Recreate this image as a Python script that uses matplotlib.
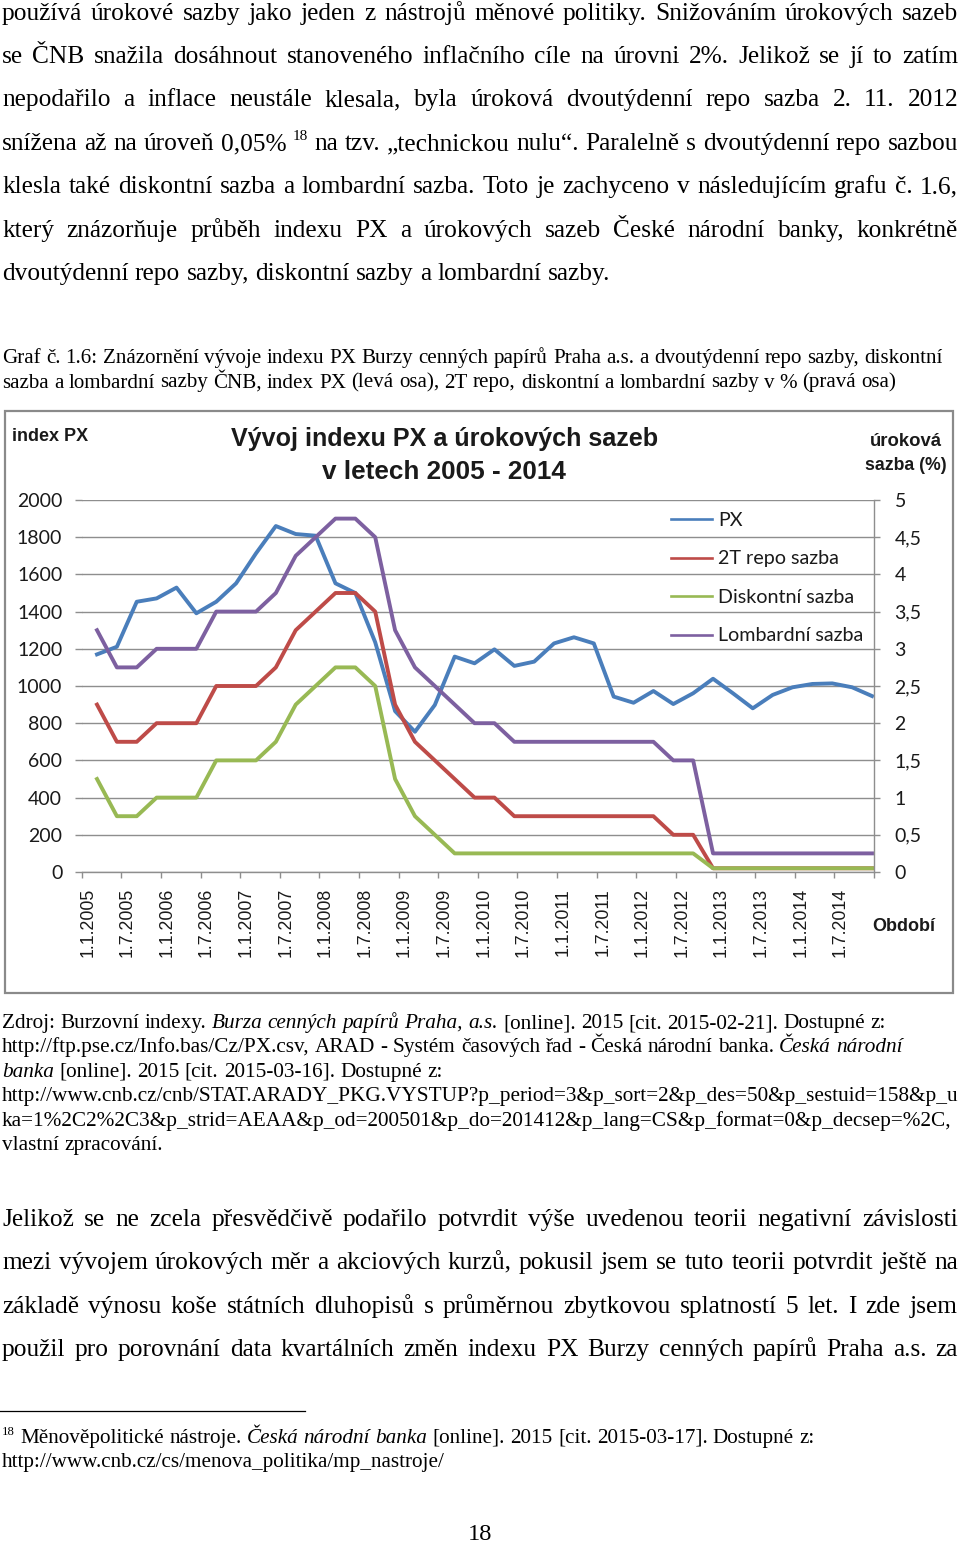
import matplotlib
matplotlib.use("Agg")
import matplotlib.pyplot as plt
from matplotlib.patches import Rectangle
from matplotlib.lines import Line2D
from matplotlib.ticker import FuncFormatter
import numpy as np

# ---- chart data (quarterly values 2005 - 2014) ----
px_index = [1170, 1211, 1453, 1471, 1529, 1391, 1453, 1552, 1713, 1860,
            1817, 1808, 1552, 1500, 1235, 865, 754, 898, 1158, 1122,
            1197, 1108, 1131, 1229, 1262, 1229, 943, 910, 973, 903,
            961, 1039, 961, 880, 952, 993, 1011, 1014, 993, 946]
repo_2t = [2.25, 1.75, 1.75, 2.0, 2.0, 2.0, 2.5, 2.5, 2.5, 2.75,
           3.25, 3.5, 3.75, 3.75, 3.5, 2.25, 1.75, 1.5, 1.25, 1.0,
           1.0, 0.75, 0.75, 0.75, 0.75, 0.75, 0.75, 0.75, 0.75, 0.5,
           0.5, 0.05, 0.05, 0.05, 0.05, 0.05, 0.05, 0.05, 0.05, 0.05]
discount = [1.25, 0.75, 0.75, 1.0, 1.0, 1.0, 1.5, 1.5, 1.5, 1.75,
            2.25, 2.5, 2.75, 2.75, 2.5, 1.25, 0.75, 0.5, 0.25, 0.25,
            0.25, 0.25, 0.25, 0.25, 0.25, 0.25, 0.25, 0.25, 0.25, 0.25,
            0.25, 0.05, 0.05, 0.05, 0.05, 0.05, 0.05, 0.05, 0.05, 0.05]
lombard = [3.25, 2.75, 2.75, 3.0, 3.0, 3.0, 3.5, 3.5, 3.5, 3.75,
           4.25, 4.5, 4.75, 4.75, 4.5, 3.25, 2.75, 2.5, 2.25, 2.0,
           2.0, 1.75, 1.75, 1.75, 1.75, 1.75, 1.75, 1.75, 1.75, 1.5,
           1.5, 0.25, 0.25, 0.25, 0.25, 0.25, 0.25, 0.25, 0.25, 0.25]
series_names = ["PX", "2T repo sazba", "Diskontní sazba", "Lombardní sazba"]
series_colors = ["#4a7ebb", "#be4b48", "#98b954", "#7d60a0"]
period_labels = ["1.1.2005", "1.7.2005", "1.1.2006", "1.7.2006", "1.1.2007",
                 "1.7.2007", "1.1.2008", "1.7.2008", "1.1.2009", "1.7.2009",
                 "1.1.2010", "1.7.2010", "1.1.2011", "1.7.2011", "1.1.2012",
                 "1.7.2012", "1.1.2013", "1.7.2013", "1.1.2014", "1.7.2014"]

# ---- page text ----
para1 = [
    "používá úrokové sazby jako jeden z nástrojů měnové politiky. Snižováním úrokových sazeb",
    "se ČNB snažila dosáhnout stanoveného inflačního cíle na úrovni 2%. Jelikož se jí to zatím",
    "nepodařilo a inflace neustále klesala, byla úroková dvoutýdenní repo sazba 2. 11. 2012",
    None,  # line with footnote mark, built below
    "klesla také diskontní sazba a lombardní sazba. Toto je zachyceno v následujícím grafu č. 1.6,",
    "který znázorňuje průběh indexu PX a úrokových sazeb České národní banky, konkrétně",
    "dvoutýdenní repo sazby, diskontní sazby a lombardní sazby.",
]
para1_line4 = [("snížena až na úroveň 0,05%", "n"), ("18", "sup"),
               ("na tzv. „technickou nulu“. Paralelně s dvoutýdenní repo sazbou", "n")]
caption = [
    "Graf č. 1.6: Znázornění vývoje indexu PX Burzy cenných papírů Praha a.s. a dvoutýdenní repo sazby, diskontní",
    "sazba a lombardní sazby ČNB, index PX (levá osa), 2T repo, diskontní a lombardní sazby v % (pravá osa)",
]
source = [
    [("Zdroj: Burzovní indexy.", "n"), ("Burza cenných papírů Praha, a.s.", "i"),
     ("[online]. 2015 [cit. 2015-02-21]. Dostupné z:", "n")],
    [("http://ftp.pse.cz/Info.bas/Cz/PX.csv,  ARAD - Systém časových řad - Česká národní banka.", "n"),
     ("Česká národní", "i")],
    [("banka", "i"), ("[online]. 2015 [cit. 2015-03-16]. Dostupné z:", "n")],
    [("http://www.cnb.cz/cnb/STAT.ARADY_PKG.VYSTUP?p_period=3&p_sort=2&p_des=50&p_sestuid=158&p_u", "n")],
    [("ka=1%2C2%2C3&p_strid=AEAA&p_od=200501&p_do=201412&p_lang=CS&p_format=0&p_decsep=%2C,", "n")],
    [("vlastní zpracování.", "n")],
]
para2 = [
    "Jelikož se ne zcela přesvědčivě podařilo potvrdit výše uvedenou teorii negativní závislosti",
    "mezi vývojem úrokových měr a akciových kurzů, pokusil jsem se tuto teorii potvrdit ještě na",
    "základě výnosu koše státních dluhopisů s průměrnou zbytkovou splatností 5 let. I zde jsem",
    "použil pro porovnání data kvartálních změn indexu PX Burzy cenných papírů Praha a.s. za",
]
footnote = [
    [("18", "sup"), ("Měnověpolitické nástroje.", "n"), ("Česká národní banka", "i"),
     ("[online]. 2015 [cit. 2015-03-17]. Dostupné z:", "n")],
    [("http://www.cnb.cz/cs/menova_politika/mp_nastroje/", "n")],
]

SERIF = "Liberation Serif"
BOLD_SANS = "Liberation Sans"
plt.rcParams["font.family"] = ["Lato", "DejaVu Sans"]

W, H = 960, 1543
fig = plt.figure(figsize=(W / 100, H / 100), dpi=100)
renderer = fig.canvas.get_renderer()


def fx(x):
    return x / W


def fy(y):
    return 1 - y / H


def text_width(s, **kw):
    t = fig.text(0, 0, s, **kw)
    w = t.get_window_extent(renderer).width
    t.remove()
    return w


def fit_size(s, target, trial=20, **kw):
    kw.setdefault("family", SERIF)
    return trial * target / text_width(s, fontsize=trial, **kw)


def word_style(style, size):
    kw = dict(family=SERIF, fontsize=size, color="black")
    if style == "i":
        kw["style"] = "italic"
    if style == "sup":
        kw["fontsize"] = size * 0.6
    return kw


def draw_line(runs, y, size, x0=2, x1=None):
    words = []
    for txt, style in runs:
        for w in txt.split():
            words.append((w, style))
    widths = [text_width(w, **word_style(st, size)) for w, st in words]
    if x1 is not None and len(words) > 1:
        gap = (x1 - x0 - sum(widths)) / (len(words) - 1)
    else:
        gap = 0.25 * size * 100 / 72
    x = x0
    for (w, st), wd in zip(words, widths):
        dy = size * 100 / 72 * 0.38 if st == "sup" else 0
        fig.text(fx(x), fy(y - dy), w, va="baseline", ha="left", **word_style(st, size))
        x += wd + gap


def chart_label(x, y, s, width, ha="center"):
    size = fit_size(s, width, family=BOLD_SANS, fontweight="bold")
    fig.text(fx(x), fy(y), s, ha=ha, va="baseline", fontsize=size, family=BOLD_SANS,
             fontweight="bold", color="#1a1a1a")


# ---- paragraph 1 ----
main_size = fit_size(para1[6], 609)
base1 = [20, 63, 106, 150, 193, 237, 280]
for i, line in enumerate(para1):
    runs = para1_line4 if line is None else [(line, "n")]
    draw_line(runs, base1[i], main_size, x1=None if i == 6 else 958)

# ---- caption ----
cap_size = fit_size(caption[1], 896)
for i, line in enumerate(caption):
    draw_line([(line, "n")], 363 + 24.5 * i, cap_size)

# ---- source ----
src_size = fit_size(source[3][0][0], 953)
for i, runs in enumerate(source):
    draw_line(runs, 1028 + 24.4 * i, src_size)

# ---- paragraph 2 ----
for i, line in enumerate(para2):
    draw_line([(line, "n")], 1226 + 43.4 * i, main_size, x1=958)

# ---- footnote ----
fn_size = fit_size(footnote[1][0][0], 443)
fig.add_artist(Line2D([0, fx(305)], [fy(1411), fy(1411)], color="black", lw=0.9))
for i, runs in enumerate(footnote):
    draw_line(runs, 1443 + 24.4 * i, fn_size)
fig.text(fx(480), fy(1540), "18", family=SERIF, fontsize=fn_size * 1.15, ha="center", va="baseline")

# ---- chart ----
GRID = "#8e8e8e"
fig.add_artist(Rectangle((fx(5), fy(993)), (953 - 5) / W, (993 - 411) / H,
                         transform=fig.transFigure, fill=False, ec="#8a8a8a", lw=1.6))

ax = fig.add_axes([fx(81.7), fy(872), (874 - 81.7) / W, (872 - 500) / H])
x = np.arange(len(px_index))
lw = 2.8
h_px, = ax.plot(x, px_index, color=series_colors[0], lw=lw, label=series_names[0])
ax.set_xlim(-0.77, 39.1)
ax.set_ylim(0, 2000)
ax.set_yticks(np.arange(0, 2001, 200))
ax.grid(axis="y", color=GRID, lw=1)
ax.set_axisbelow(True)
ax.tick_params(axis="y", length=5, width=1, color=GRID, pad=9, labelsize=14, labelcolor="#1a1a1a")
for s in ("left", "top", "right"):
    ax.spines[s].set_visible(False)
ax.spines["bottom"].set_color(GRID)
ax.spines["bottom"].set_linewidth(1)

tick_pos = np.linspace(-0.77, 39.1, 21)
ax.set_xticks(tick_pos, minor=True)
ax.set_xticks(tick_pos[:-1] + 0.3)
ax.set_xticklabels(period_labels, rotation=90, va="top", ha="center",
                   fontsize=12.8, family="Liberation Sans", color="#1a1a1a")
ax.tick_params(axis="x", which="major", length=0, pad=11.5)
ax.tick_params(axis="x", which="minor", length=4.3, width=1, color=GRID)

ax2 = ax.twinx()
handles = [h_px]
for vals, name, col in zip([repo_2t, discount, lombard], series_names[1:], series_colors[1:]):
    h, = ax2.plot(x, vals, color=col, lw=lw, label=name)
    handles.append(h)
ax2.set_ylim(0, 5)
ax2.set_yticks(np.arange(0, 5.01, 0.5))
ax2.yaxis.set_major_formatter(FuncFormatter(lambda v, p: f"{v:g}".replace(".", ",")))
ax2.tick_params(axis="y", length=4.3, width=1, color=GRID, pad=10.5, labelsize=14, labelcolor="#1a1a1a")
for s in ("left", "top", "bottom"):
    ax2.spines[s].set_visible(False)
ax2.spines["right"].set_color(GRID)
ax2.spines["right"].set_linewidth(1)

leg_handles = [Line2D([], [], color=c, lw=1.9) for c in series_colors]
ax2.legend(leg_handles, series_names, loc="upper left", bbox_to_anchor=(fx(671), fy(512)),
           bbox_transform=fig.transFigure, frameon=False, fontsize=14.2, handlelength=2.1,
           handletextpad=0.28, labelspacing=1.09, borderpad=0, borderaxespad=0,
           labelcolor="#1a1a1a")

chart_label(445, 446, "Vývoj indexu PX a úrokových sazeb", 426)
chart_label(444, 479, "v letech 2005 - 2014", 244)
chart_label(12, 441, "index PX", 76, ha="left")
chart_label(906, 446, "úroková", 72)
chart_label(906, 470, "sazba (%)", 81)
chart_label(872, 931, "Období", 63, ha="left")

fig.savefig("out.png", dpi=100, facecolor="white")
